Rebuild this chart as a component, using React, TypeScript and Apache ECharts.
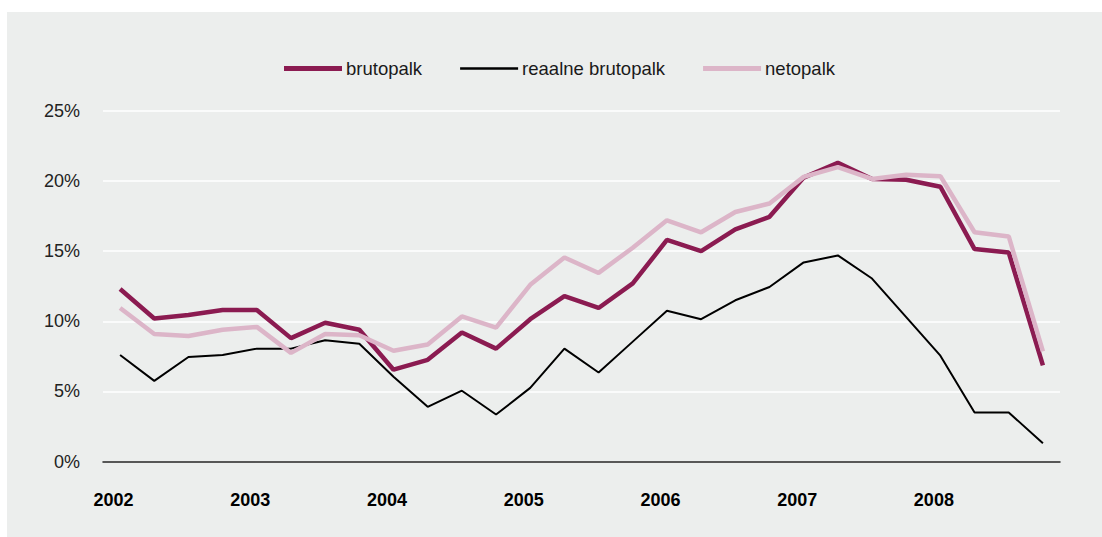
import React, { useEffect, useRef } from "react";
import * as echarts from "echarts";

const years = ["2002", "2003", "2004", "2005", "2006", "2007", "2008"];
const quarters = ["I", "II", "III", "IV"];
const categories = years.flatMap((y) => quarters.map((q) => `${y} ${q}`));

const seriesNames = ["brutopalk", "reaalne brutopalk", "netopalk"];

const brutopalk = [
  12.3, 10.2, 10.45, 10.8, 10.8, 8.8, 9.9, 9.4,
  6.55, 7.25, 9.2, 8.05, 10.15, 11.8, 10.95, 12.7,
  15.8, 15.0, 16.55, 17.45, 20.25, 21.3, 20.15, 20.1,
  19.6, 15.15, 14.9, 6.85,
];
const reaalneBrutopalk = [
  7.6, 5.75, 7.45, 7.6, 8.05, 8.05, 8.65, 8.4,
  6.05, 3.9, 5.05, 3.35, 5.25, 8.05, 6.35, 8.55,
  10.75, 10.15, 11.5, 12.45, 14.2, 14.7, 13.05, 10.3,
  7.55, 3.5, 3.5, 1.3,
];
const netopalk = [
  10.95, 9.1, 8.95, 9.4, 9.6, 7.75, 9.1, 9.0,
  7.9, 8.35, 10.35, 9.55, 12.6, 14.55, 13.45, 15.25,
  17.2, 16.35, 17.8, 18.4, 20.3, 21.0, 20.15, 20.45,
  20.35, 16.35, 16.05, 7.85,
];

const yTicks = [0, 5, 10, 15, 20, 25];

const COLOR_BRUTO = "#8b1b51";
const COLOR_REAL = "#000000";
const COLOR_NETO = "#dcb5c8";
const FONT = "'Liberation Sans', Arial, Helvetica, sans-serif";

export default function App() {
  const ref = useRef<HTMLDivElement>(null);

  useEffect(() => {
    if (!ref.current) return;
    const chart = echarts.init(ref.current, undefined, { renderer: "svg" });
    chart.setOption({
      animation: false,
      backgroundColor: "#ffffff",
      graphic: [
        {
          type: "rect",
          z: -10,
          silent: true,
          shape: { x: 7, y: 12, width: 1095, height: 525 },
          style: { fill: "#eceeed" },
        },
      ],
      legend: {
        left: 279,
        top: 54,
        itemWidth: 58,
        itemHeight: 5,
        itemGap: 38,
        textStyle: { fontFamily: FONT, fontSize: 18.5, color: "#1a1a1a", padding: [0, 0, 0, -1] },
        data: [
          { name: seriesNames[0], icon: "path://M0,0H58V5H0Z" },
          { name: seriesNames[1], icon: "path://M0,0H58V2.6H0Z" },
          { name: seriesNames[2], icon: "path://M0,0H58V5H0Z" },
        ],
      },
      grid: { left: 103, right: 42, top: 111, bottom: 75.5, containLabel: false },
      xAxis: {
        type: "category",
        data: categories,
        boundaryGap: true,
        axisLine: { show: true, lineStyle: { color: "#222222", width: 1.5 } },
        axisTick: { show: false },
        splitLine: { show: false },
        axisLabel: {
          interval: 3,
          margin: 29,
          formatter: (v: string) => v.split(" ")[0],
          fontFamily: FONT,
          fontSize: 18,
          fontWeight: "bold",
          color: "#000000",
          padding: [0, 13, 0, 0],
        },
      },
      yAxis: {
        type: "value",
        min: yTicks[0],
        max: yTicks[yTicks.length - 1],
        interval: 5,
        axisLine: { show: false },
        axisTick: { show: false },
        splitLine: { show: true, lineStyle: { color: "#ffffff", width: 1.5 } },
        axisLabel: {
          margin: 23,
          formatter: (v: number) => `${v}%`,
          fontFamily: FONT,
          fontSize: 18,
          color: "#222222",
          padding: [12, 0, 0, 0],
        },
      },
      series: [
        {
          name: seriesNames[0],
          type: "line",
          data: brutopalk,
          color: COLOR_BRUTO,
          symbol: "none",
          lineStyle: { width: 4.5, color: COLOR_BRUTO },
          itemStyle: { color: COLOR_BRUTO },
        },
        {
          name: seriesNames[1],
          type: "line",
          data: reaalneBrutopalk,
          color: COLOR_REAL,
          symbol: "none",
          lineStyle: { width: 2, color: COLOR_REAL },
          itemStyle: { color: COLOR_REAL },
        },
        {
          name: seriesNames[2],
          type: "line",
          data: netopalk,
          color: COLOR_NETO,
          symbol: "none",
          lineStyle: { width: 4.5, color: COLOR_NETO },
          itemStyle: { color: COLOR_NETO },
        },
      ],
    });
    return () => chart.dispose();
  }, []);

  return (
    <div
      ref={ref}
      style={{ position: "absolute", left: 0, top: 0, width: 1102, height: 537 }}
    />
  );
}
